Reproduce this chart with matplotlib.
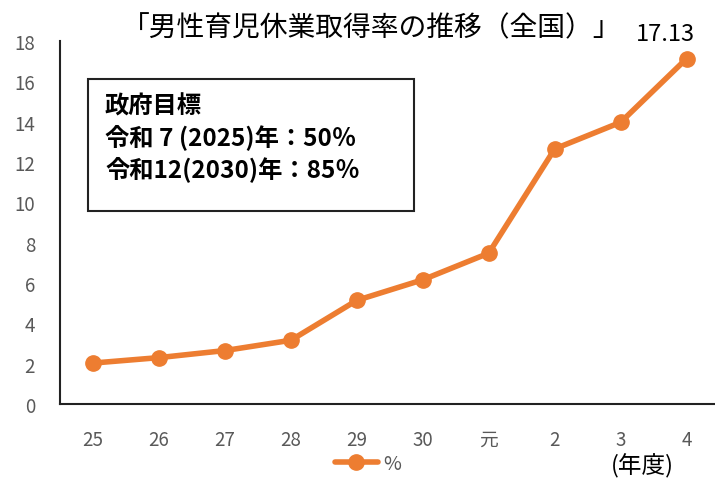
"""Male childcare leave rate chart"""

import matplotlib.pyplot as plt

plt.rcParams['font.family'] = ['Noto Sans CJK JP', 'DejaVu Sans']

years = ['25', '26', '27', '28', '29', '30', '元', '2', '3', '4']
rates = [2.03, 2.30, 2.65, 3.16, 5.14, 6.16, 7.48, 12.65, 13.97, 17.13]

orange = '#ED7D31'
gray = '#595959'

fig = plt.figure(figsize=(7.15, 4.81), dpi=100)
ax = fig.add_axes([60 / 715, 76 / 481, 655 / 715, 363 / 481])

x = list(range(len(years)))
ax.plot(x, rates, color=orange, lw=4, marker='o', ms=11, label='%',
        solid_capstyle='round')

ax.set_xlim(-0.5, 9.43)
ax.set_ylim(0, 18)
ax.set_yticks(range(0, 19, 2))
ax.set_xticks(x)
ax.set_xticklabels(years)
ax.tick_params(axis='both', length=0, labelsize=13.5, labelcolor=gray)
ax.tick_params(axis='x', pad=18)
ax.tick_params(axis='y', pad=18)
for s in ['top', 'right']:
    ax.spines[s].set_visible(False)
for s in ['left', 'bottom']:
    ax.spines[s].set_color('#222222')
    ax.spines[s].set_linewidth(1.5)

ax.annotate(f'{rates[-1]:.2f}', (x[-1], rates[-1]), xytext=(-15, 10),
            textcoords='offset points', ha='center', va='bottom', fontsize=17)

fig.text(372 / 715, 1 - 28 / 481, '「男性育児休業取得率の推移（全国）」',
         ha='center', va='center', fontsize=20)

fig.text(105 / 715, 1 - 138 / 481,
         '政府目標\n令和 7 (2025)年：50％\n令和12(2030)年：85％',
         ha='left', va='center', fontsize=17.5, fontweight='bold',
         linespacing=1.27)
box = plt.Rectangle((88 / 715, 1 - 212 / 481), 326 / 715, 132 / 481,
                    transform=fig.transFigure, fill=False, ec='#222222', lw=1.5)
fig.add_artist(box)

fig.legend(loc='center', bbox_to_anchor=(368 / 715, 1 - 464 / 481),
           frameon=False, fontsize=14, handlelength=2.2, labelcolor=gray,
           handletextpad=0.3)
fig.text(642 / 715, 1 - 466 / 481, '(年度)', ha='center', va='center',
         fontsize=17)

fig.savefig('out.png', dpi=100)
